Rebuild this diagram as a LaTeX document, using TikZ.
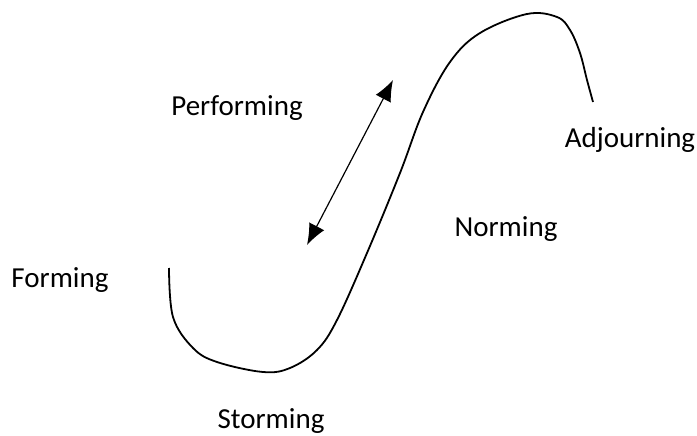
\documentclass[tikz,border=0pt]{standalone}
\usepackage{fontspec}
\setmainfont{Carlito}
\usetikzlibrary{arrows.meta}

\begin{document}
\begin{tikzpicture}[x=1pt,y=-1pt,>={Latex[length=21pt,width=17pt]},
  every node/.style={font=\fontsize{29}{35}\selectfont}]
  \useasboundingbox (0,0) rectangle (697,436);
  \node (performing) at (237,108) {Performing};
  \node (forming) at (60,280) {Forming};
  \node (norming) at (506,229) {Norming};
  \node (adjourning) at (630,140) {Adjourning};
  \node (storming) at (271,421) {Storming};
  \draw[line width=1.8pt] plot[smooth,tension=0.6] coordinates {(169,268) (173,317) (193,348)
    (217,362) (263,372) (290,368) (317,350) (337,320) (367,253) (400,173)
    (423,112) (450,62) (480,33) (527,14) (557,17) (570,30) (580,53) (587,80)
    (593,102)};
  \coordinate (low) at (307,245);
  \coordinate (high) at (393,80);
  \draw[line width=1.2pt,<->] (low) -- (high);
\end{tikzpicture}
\end{document}
